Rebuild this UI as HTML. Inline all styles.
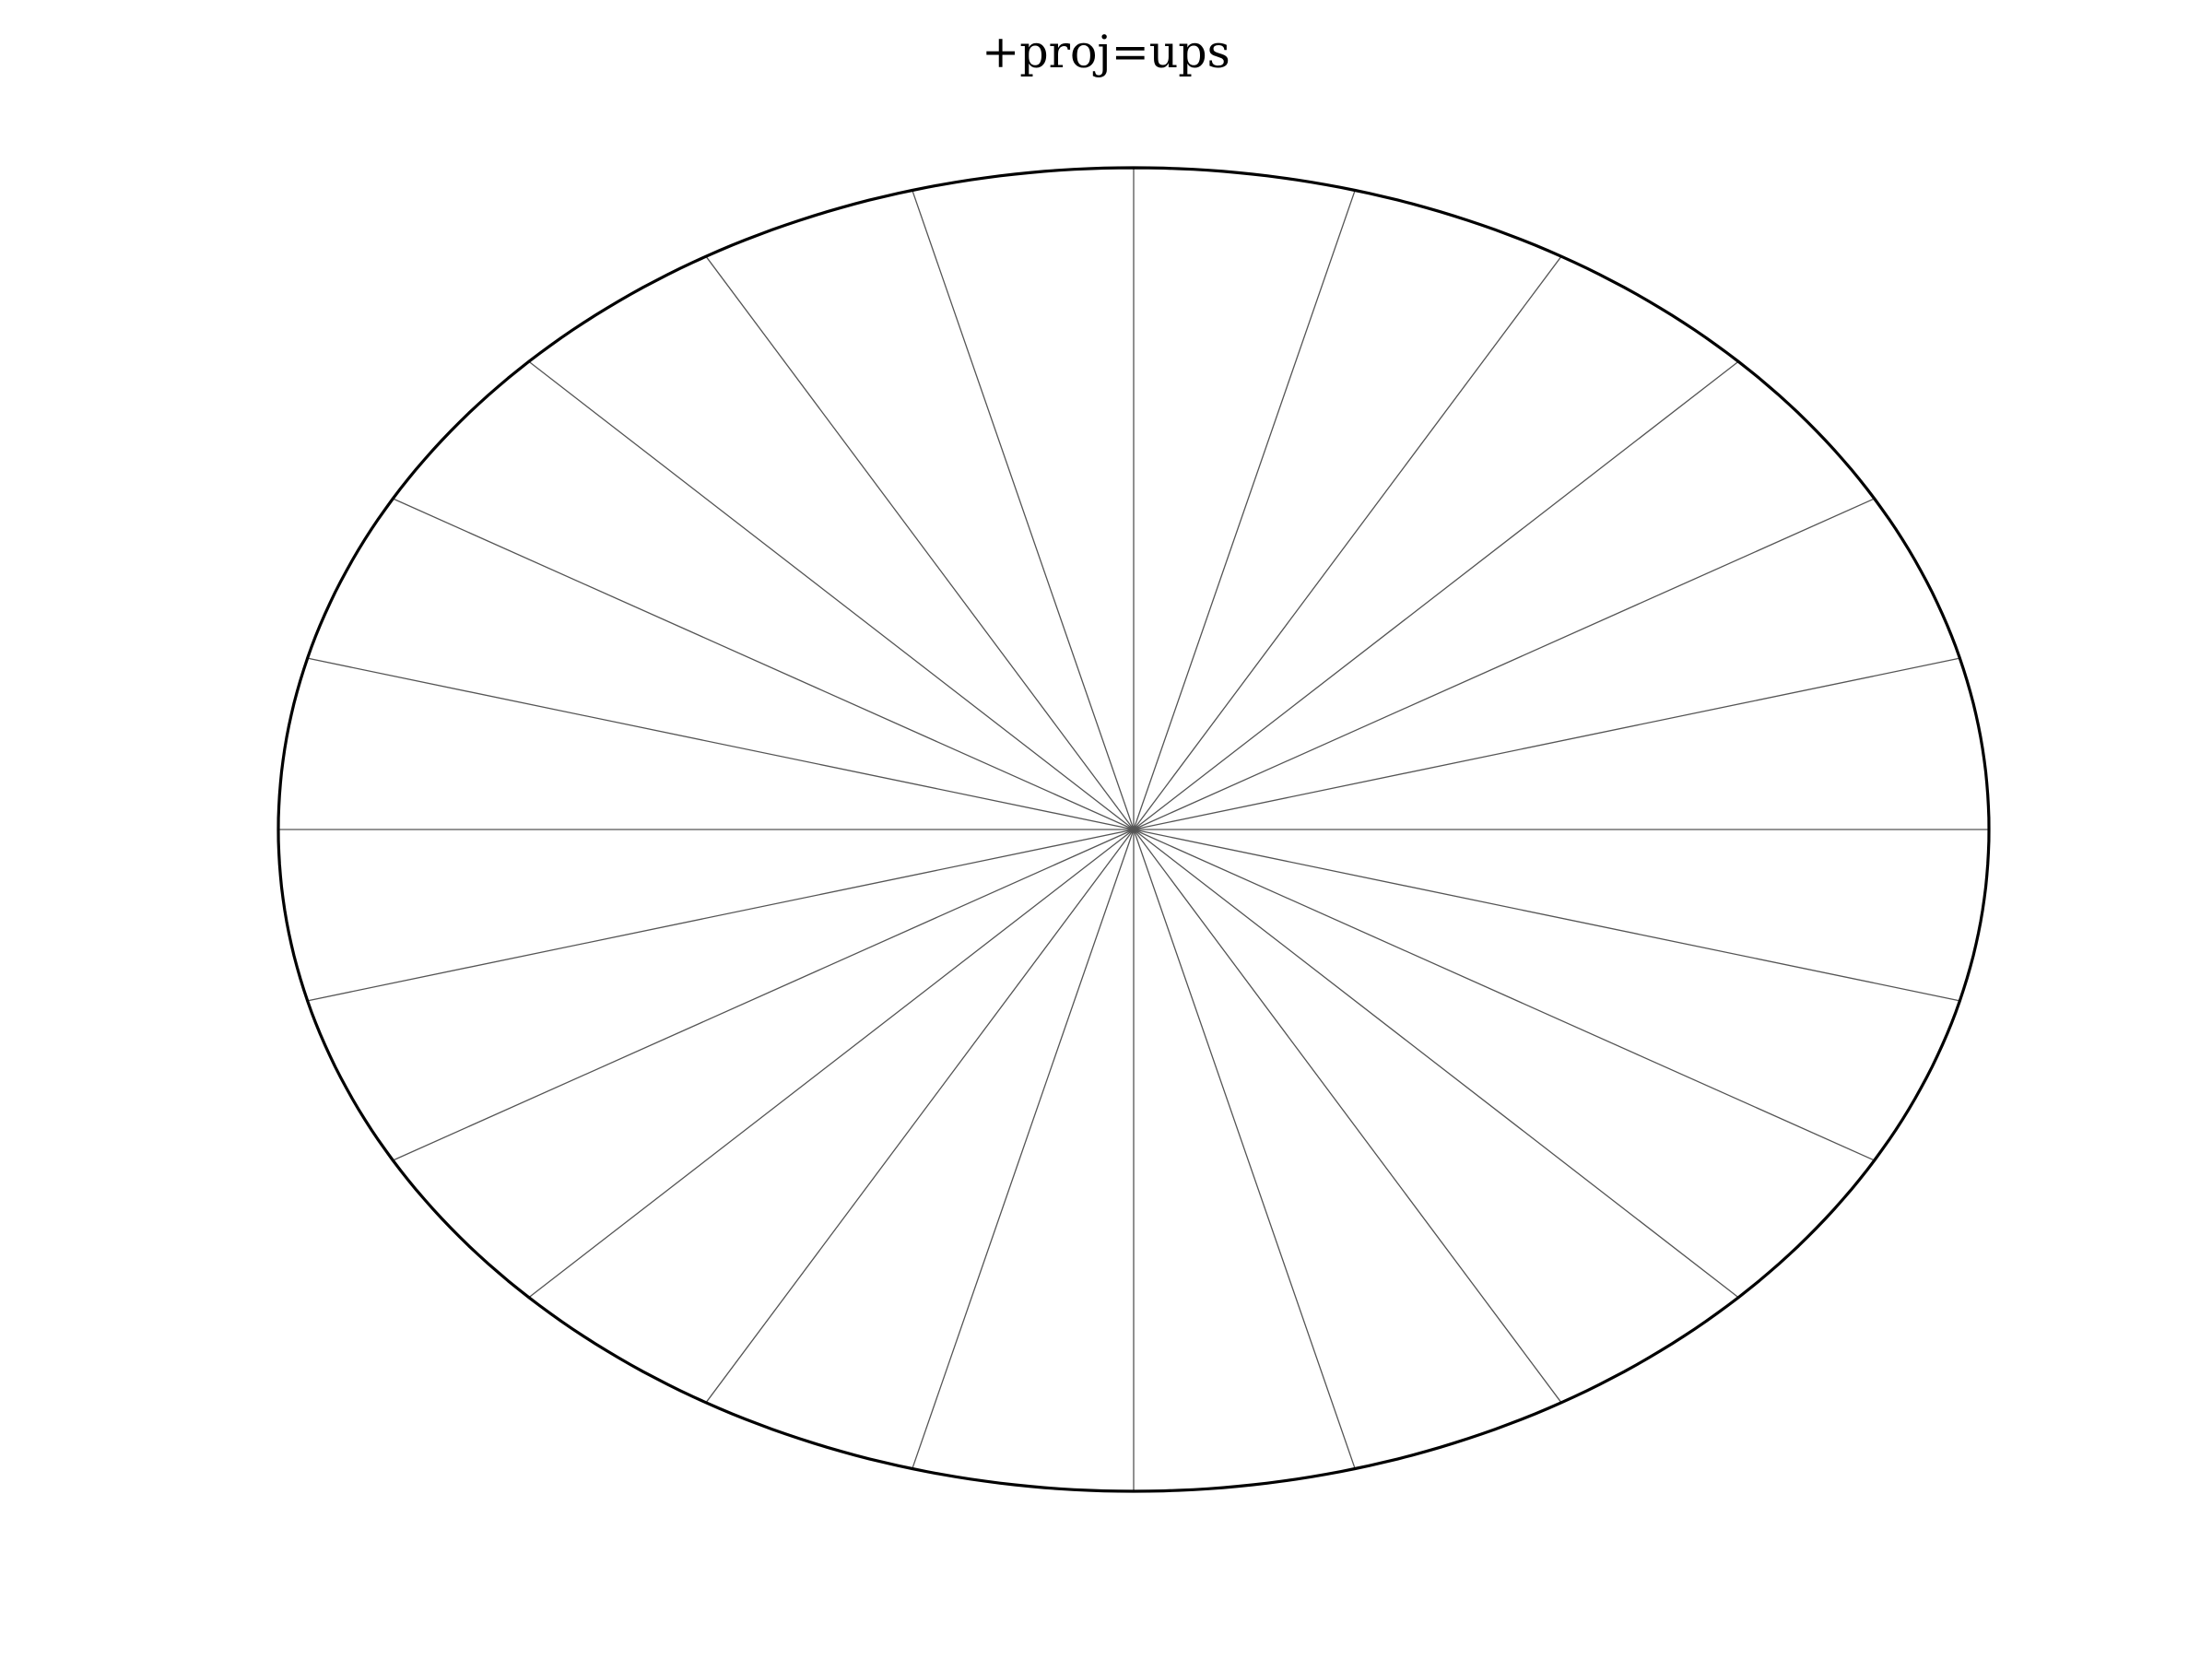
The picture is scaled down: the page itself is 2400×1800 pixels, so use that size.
<!DOCTYPE html>
<html><head><meta charset="utf-8"><style>html,body{margin:0;padding:0;background:#fff}svg{display:block}</style></head>
<body>
<svg width="2400" height="1800" viewBox="0 0 2400 1800" xmlns="http://www.w3.org/2000/svg">
<rect width="2400" height="1800" fill="#fff"/>
<text x="1200" y="73" text-anchor="middle" font-family="'DejaVu Serif','Liberation Serif',serif" font-size="49" fill="#000">+proj=ups</text>
<g id="meridians"></g>
<polygon id="outline" fill="none" stroke="#000" stroke-width="3.2" stroke-linejoin="round"/>
</svg>
<script>
const meridianLongitudes = [0,15,30,45,60,75,90,105,120,135,150,165,180,195,210,225,240,255,270,285,300,315,330,345];
const cx = 1230, cy = 900, rx = 928, ry = 718;
function px(deg){return cx + rx*Math.sin(deg*Math.PI/180);}
function py(deg){return cy - ry*Math.cos(deg*Math.PI/180);}
const g = document.getElementById('meridians');
meridianLongitudes.forEach(function(lon){
  const l = document.createElementNS('http://www.w3.org/2000/svg','line');
  l.setAttribute('x1',cx);l.setAttribute('y1',cy);
  l.setAttribute('x2',px(lon));l.setAttribute('y2',py(lon));
  l.setAttribute('stroke','#555');l.setAttribute('stroke-width','1.3');
  
  
  g.appendChild(l);
});
const pts=[];
for(let a=0;a<360;a+=1){pts.push(px(a).toFixed(1)+','+py(a).toFixed(1));}
document.getElementById('outline').setAttribute('points',pts.join(' '));
</script>
</body></html>
